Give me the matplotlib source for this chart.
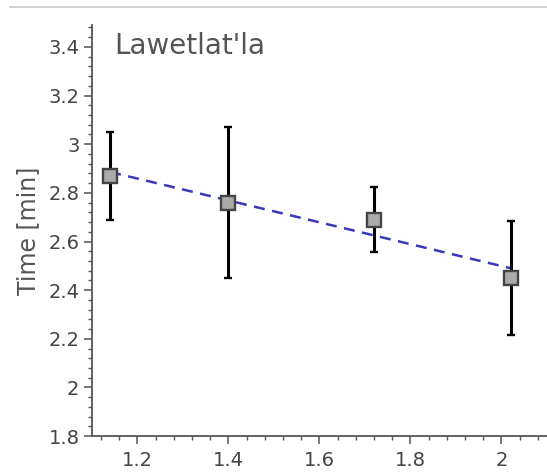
#!/usr/bin/env python3

import numpy as np
import matplotlib
matplotlib.use('Agg')
import matplotlib.pyplot as plt
from matplotlib.lines import Line2D
from matplotlib.ticker import MultipleLocator

speaker = "Lawetlat'la"
x = [1.14, 1.40, 1.72, 2.02]
t = [2.87, 2.76, 2.69, 2.45]
err = [0.18, 0.31, 0.135, 0.235]

fig = plt.figure(figsize=(5.47, 4.72), dpi=100)
ax = fig.add_axes([0.168, 0.076, 0.832, 0.871])

# linear fit through the points
k, b = np.polyfit(x, t, 1)
xf = np.array([min(x), max(x)])
ax.plot(xf, k * xf + b, color='#3838b8', lw=1.8, dashes=(4.4, 3.0), zorder=2)

ax.errorbar(x, t, yerr=err, fmt='s', color='black', ecolor='black', elinewidth=2.2,
            capsize=2.6, capthick=2.2, markersize=10, markerfacecolor='#aaaaaa',
            markeredgecolor='#444444', markeredgewidth=1.7, zorder=3)

ax.set_xlim(1.1, 2.1)
ax.set_ylim(1.8, 3.49)
ax.xaxis.set_major_locator(MultipleLocator(0.2))
ax.xaxis.set_minor_locator(MultipleLocator(0.04))
ax.yaxis.set_major_locator(MultipleLocator(0.2))
ax.yaxis.set_minor_locator(MultipleLocator(0.04))
ax.xaxis.set_major_formatter(lambda v, p: f'{v:g}')
ax.yaxis.set_major_formatter(lambda v, p: f'{v:g}')

for s in ['top', 'right']:
    ax.spines[s].set_visible(False)
for s in ['left', 'bottom']:
    ax.spines[s].set_color('#555555')
    ax.spines[s].set_linewidth(1.3)

ax.tick_params(which='major', length=6, width=1.1, color='#555555',
               labelsize=14, labelcolor='#444444', pad=3)
ax.tick_params(axis='x', which='major', pad=5)
ax.tick_params(which='minor', length=3, width=1.0, color='#555555')

ax.set_ylabel('Time [min]', fontsize=17, color='#555555', labelpad=6)
ax.text(0.05, 0.949, speaker, transform=ax.transAxes, fontsize=20, color='#555555',
        ha='left', va='center')

fig.add_artist(Line2D([0.018, 1.0], [0.985, 0.985], color='#cccccc', lw=1.2,
                      transform=fig.transFigure))

fig.savefig('out.png', dpi=100)
